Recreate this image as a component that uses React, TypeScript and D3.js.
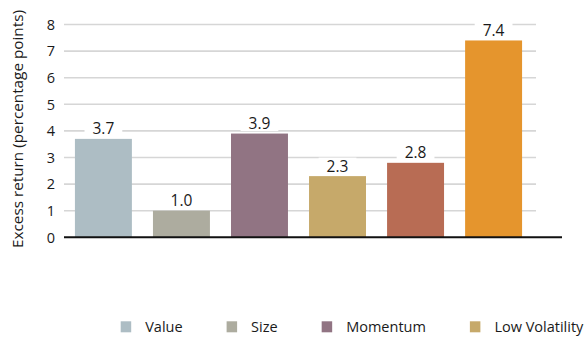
import React, { useEffect, useRef } from "react";
import * as d3 from "d3";

const categories = ["Value", "Size", "Momentum", "Low Volatility", "Quality", "Multi-Factor"];
const values = [3.7, 1.0, 3.9, 2.3, 2.8, 7.4];
const colors = ["#adbdc4", "#adac9f", "#917483", "#c6a96a", "#b86c54", "#e5952d"];
const yTicks = [0, 1, 2, 3, 4, 5, 6, 7, 8];
const yTitle = "Excess return (percentage points)";

const W = 587;
const H = 337;
const FONT = "'Open Sans', 'Noto Sans', sans-serif";
const LABEL_FONT = "'Open Sans', 'Noto Sans', sans-serif";

export default function App() {
  const ref = useRef<SVGSVGElement | null>(null);

  useEffect(() => {
    const svg = d3.select(ref.current);
    svg.selectAll("*").remove();

    const x = d3
      .scaleBand<string>()
      .domain(categories)
      .range([64, 533])
      .paddingInner(0.27)
      .paddingOuter(0.14);
    const y = d3.scaleLinear().domain([0, 8]).range([237.3, 24.5]);

    // gridlines
    svg
      .append("g")
      .selectAll("line")
      .data(yTicks.filter((t) => t > 0))
      .join("line")
      .attr("x1", 64)
      .attr("x2", 536)
      .attr("y1", (d) => y(d))
      .attr("y2", (d) => y(d))
      .attr("stroke", "#d6d6d6")
      .attr("stroke-width", 1.6);

    // tick labels
    svg
      .append("g")
      .selectAll("text")
      .data(yTicks)
      .join("text")
      .attr("x", 55)
      .attr("y", (d) => y(d))
      .attr("dy", "0.36em")
      .attr("text-anchor", "end")
      .attr("font-family", FONT)
      .attr("font-size", 14.5)
      .attr("fill", "#1a1a1a")
      .text((d) => String(d));

    // y title
    svg
      .append("text")
      .attr("transform", `translate(18, 129) rotate(-90)`)
      .attr("text-anchor", "middle")
      .attr("dy", "0.35em")
      .attr("font-family", FONT)
      .attr("font-size", 14)
      .attr("fill", "#1a1a1a")
      .attr("textLength", 238)
      .attr("lengthAdjust", "spacingAndGlyphs")
      .text(yTitle);

    // bars
    svg
      .append("g")
      .selectAll("rect")
      .data(values)
      .join("rect")
      .attr("x", (_, i) => x(categories[i])!)
      .attr("width", x.bandwidth())
      .attr("y", (d) => y(d))
      .attr("height", (d) => y(0) - y(d))
      .attr("fill", (_, i) => colors[i]);

    // value labels with white background
    const lg = svg.append("g");
    values.forEach((v, i) => {
      const cx = x(categories[i])! + x.bandwidth() / 2;
      const by = y(v) - 4.5;
      const g = lg.append("g");
      const bg = g.append("rect").attr("fill", "#ffffff");
      const t = g
        .append("text")
        .attr("x", cx)
        .attr("y", by)
        .attr("text-anchor", "middle")
        .attr("font-family", LABEL_FONT)
        .attr("font-size", 15.5)
        .attr("fill", "#1a1a1a")
        .text(v.toFixed(1));
      const w = (t.node() as SVGTextElement).getComputedTextLength();
      bg.attr("x", cx - w / 2 - 8)
        .attr("width", w + 16)
        .attr("y", by - 14)
        .attr("height", 16);
    });

    // baseline
    svg
      .append("line")
      .attr("x1", 64)
      .attr("x2", 562)
      .attr("y1", y(0))
      .attr("y2", y(0))
      .attr("stroke", "#111111")
      .attr("stroke-width", 2);

    // legend (items that fit in the width, as in the reference)
    const leg = svg.append("g");
    let lx = 120.7;
    categories.forEach((c, i) => {
      const item = leg.append("g");
      item
        .append("rect")
        .attr("x", lx)
        .attr("y", 321.3)
        .attr("width", 10.5)
        .attr("height", 11)
        .attr("fill", colors[i]);
      const t = item
        .append("text")
        .attr("x", lx + 24.5)
        .attr("y", 327)
        .attr("dy", "0.36em")
        .attr("font-family", FONT)
        .attr("font-size", 14.5)
        .attr("fill", "#1a1a1a")
        .text(c);
      const w = (t.node() as SVGTextElement).getComputedTextLength();
      if (lx + 24.5 + w > W) item.remove();
      lx = lx + 24.5 + w + 44;
    });
  }, []);

  return (
    <svg
      ref={ref}
      width={W}
      height={H}
      style={{ position: "absolute", left: 0, top: 0, background: "#ffffff" }}
    />
  );
}
